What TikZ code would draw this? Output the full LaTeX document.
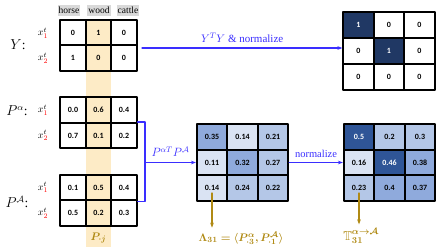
\documentclass[tikz,border=0pt]{standalone}
\usepackage{amsmath,amssymb}
\usepackage{bm}
\usepackage{xcolor}
\usepackage{fontspec}
\setmainfont{Liberation Serif}
\newfontfamily\cellfont{Carlito}
\usepackage{tikz}
\usetikzlibrary{arrows.meta,calc,positioning}
\definecolor{bandc}{HTML}{FDEBC6}
\definecolor{linkblue}{HTML}{3A2EFF}
\definecolor{goldc}{HTML}{B08A14}
\definecolor{bla}{HTML}{DAE3F3}
\definecolor{blb}{HTML}{B4C7E7}
\definecolor{blc}{HTML}{8FAADC}
\definecolor{bld}{HTML}{2F5597}
\definecolor{navy}{HTML}{203864}
\tikzset{
  cell/.style={draw, fill=white, line width=1.8pt, minimum width=25.5pt, minimum height=25.5pt,
    inner sep=0pt, font=\cellfont\bfseries\fontsize{8}{9}\selectfont},
  bcell/.style={cell, minimum width=30.5pt, minimum height=25.8pt},
  hdr/.style={fill=black!15, inner sep=1pt, minimum height=11pt, font=\fontsize{9.5}{10}\selectfont},
  rowlab/.style={inner sep=0pt, font=\fontsize{10}{11}\selectfont},
  matlab/.style={inner sep=0pt, font=\fontsize{13.5}{14}\selectfont},
  bline/.style={draw=linkblue, line width=1.3pt},
  blink/.style={bline, -{Stealth[length=5pt]}},
  glink/.style={draw=goldc, line width=1.2pt, -{Stealth[length=5pt]}},
  every picture/.style={line cap=round, line join=round}
}
\newcommand{\rx}[1]{$x^{t}_{\textcolor{red}{#1}}$}

\begin{document}
\begin{tikzpicture}[x=1pt, y=-1pt]
  \useasboundingbox (0,0) rectangle (436,249);
  \fill[bandc] (86,20) rectangle (110.5,247);

  % labels of the classes
  \node[hdr] (hh) at (69,10) {horse};
  \node[hdr] (hw) at (99,10) {wood};
  \node[hdr] (hc) at (128,10) {cattle};

  % Y
  \node[matlab] (Y) at (18,45) {$Y$:};
  \node[rowlab] (yl1) at (43,33) {\rx{1}};
  \node[rowlab] (yl2) at (43,58) {\rx{2}};
  \node[cell] (y11) at (73,33) {0};
  \node[cell, fill=bandc] (y12) at (98.5,33) {1};
  \node[cell] (y13) at (124,33) {0};
  \node[cell] (y21) at (73,58) {1};
  \node[cell, fill=bandc] (y22) at (98.5,58) {0};
  \node[cell] (y23) at (124,58) {0};

  % P^alpha
  \node[matlab] (Pa) at (17,111) {$P^{\alpha}$:};
  \node[rowlab] (al1) at (43,110) {\rx{1}};
  \node[rowlab] (al2) at (43,135.5) {\rx{2}};
  \node[cell] (a11) at (73,110) {0.0};
  \node[cell, fill=bandc] (a12) at (98.5,110) {0.6};
  \node[cell] (a13) at (124,110) {0.4};
  \node[cell] (a21) at (73,135.5) {0.7};
  \node[cell, fill=bandc] (a22) at (98.5,135.5) {0.1};
  \node[cell] (a23) at (124,135.5) {0.2};

  % P^A
  \node[matlab] (PA) at (17,202) {$P^{\mathcal{A}}$:};
  \node[rowlab] (Al1) at (43,187.5) {\rx{1}};
  \node[rowlab] (Al2) at (43,213) {\rx{2}};
  \node[cell] (A11) at (73,187.5) {0.1};
  \node[cell, fill=bandc] (A12) at (98.5,187.5) {0.5};
  \node[cell] (A13) at (124,187.5) {0.4};
  \node[cell] (A21) at (73,213) {0.5};
  \node[cell, fill=bandc] (A22) at (98.5,213) {0.2};
  \node[cell] (A23) at (124,213) {0.3};
  \node[text=goldc, font=\fontsize{11}{12}\selectfont] (Pj) at (98.5,238) {$\bm{P_{\cdot j}}$};

  % Y^T Y
  \node[bcell, fill=navy, text=white] (t11) at (358.5,25) {1};
  \node[bcell] (t12) at (389,25) {0};
  \node[bcell] (t13) at (419.5,25) {0};
  \node[bcell] (t21) at (358.5,51) {0};
  \node[bcell, fill=navy, text=white] (t22) at (389,51) {1};
  \node[bcell] (t23) at (419.5,51) {0};
  \node[bcell] (t31) at (358.5,77) {0};
  \node[bcell] (t32) at (389,77) {0};
  \node[bcell] (t33) at (419.5,77) {0};

  % product
  \node[bcell, fill=blc] (m11) at (212,137) {0.35};
  \node[bcell, fill=bla] (m12) at (242.5,137) {0.14};
  \node[bcell, fill=blb] (m13) at (273,137) {0.21};
  \node[bcell, fill=bla] (m21) at (212,162.5) {0.11};
  \node[bcell, fill=blc] (m22) at (242.5,162.5) {0.32};
  \node[bcell, fill=blb] (m23) at (273,162.5) {0.27};
  \node[bcell, fill=bla] (m31) at (212,188) {0.14};
  \node[bcell, fill=blb] (m32) at (242.5,188) {0.24};
  \node[bcell, fill=blb] (m33) at (273,188) {0.22};

  % normalized
  \node[bcell, fill=bld, text=white] (r11) at (359,137) {0.5};
  \node[bcell, fill=blb] (r12) at (389.5,137) {0.2};
  \node[bcell, fill=blb] (r13) at (420,137) {0.3};
  \node[bcell, fill=bla] (r21) at (359,162.5) {0.16};
  \node[bcell, fill=bld, text=white] (r22) at (389.5,162.5) {0.46};
  \node[bcell, fill=blc] (r23) at (420,162.5) {0.38};
  \node[bcell, fill=blb] (r31) at (359,188) {0.23};
  \node[bcell, fill=blc] (r32) at (389.5,188) {0.4};
  \node[bcell, fill=blc] (r33) at (420,188) {0.37};

  \node[text=goldc, inner sep=1pt, font=\fontsize{11}{12}\selectfont] (lam) at (241,238)
    {$\bm{\Lambda_{31}=\langle P^{\alpha}_{\cdot 3}, P^{\mathcal{A}}_{\cdot 1}\rangle}$};
  \node[text=goldc, inner sep=1pt, font=\fontsize{13}{14}\selectfont] (TT) at (361,236)
    {$\bm{\mathbb{T}^{\alpha\to\mathcal{A}}_{31}}$};

  % connectors
  \coordinate (ys) at (142,48);
  \draw[blink] (ys) -- (ys -| t21.west)
    node[midway, above=1pt, text=linkblue, font=\fontsize{11}{12}\selectfont] {$Y^{T}Y$ \& normalize};
  \coordinate (br) at (145,162.5);
  \draw[bline] (a23.north east) -| (br) |- (A13.south east);
  \draw[blink] (br) -- (m21.west)
    node[midway, above=2pt, text=linkblue, font=\fontsize{11.5}{12}\selectfont] {$P^{\alpha T}P^{\mathcal{A}}$};
  \draw[blink] (m23.east) -- (r21.west)
    node[midway, above=1pt, text=linkblue, font=\fontsize{10.5}{11}\selectfont] {normalize};
  \draw[glink] ([yshift=-5pt]m31.center) -- ([yshift=3pt]lam.north -| m31.center);
  \draw[glink] ([yshift=-5pt]r31.center) -- ([yshift=3pt]TT.north -| r31.center);
\end{tikzpicture}
\end{document}
